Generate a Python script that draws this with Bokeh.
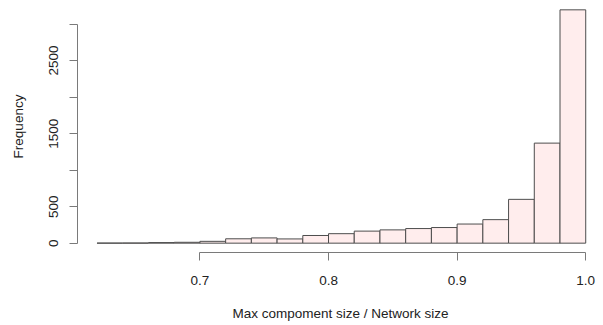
from bokeh.plotting import figure
from bokeh.models import Range1d, FixedTicker, ColumnDataSource
from bokeh.embed import file_html
from bokeh.resources import INLINE

# Histogram data
bin_edges = [0.62, 0.64, 0.66, 0.68, 0.70, 0.72, 0.74, 0.76, 0.78, 0.80,
             0.82, 0.84, 0.86, 0.88, 0.90, 0.92, 0.94, 0.96, 0.98, 1.00]
counts = [1, 2, 8, 12, 25, 60, 72, 58, 105, 130,
          165, 182, 200, 214, 262, 322, 600, 1370, 3195]

x_ticks = [0.7, 0.8, 0.9, 1.0]
x_tick_labels = ["0.7", "0.8", "0.9", "1.0"]
y_ticks = [0, 500, 1000, 1500, 2000, 2500, 3000]
y_tick_labels = ["0", "500", "", "1500", "", "2500", ""]

x_title = "Max compoment size / Network size"
y_title = "Frequency"

src = ColumnDataSource(dict(left=bin_edges[:-1], right=bin_edges[1:], top=counts,
                            bottom=[0] * len(counts)))

xmin, xmax = bin_edges[0], bin_edges[-1]
xpad = 0.04 * (xmax - xmin)
ymax = max(counts)
ypad = 0.04 * ymax

p = figure(width=603, height=325, output_backend="svg", toolbar_location=None,
           x_range=Range1d(xmin - xpad, xmin - xpad + 526 / 1286),
           y_range=Range1d(-ypad, ymax + ypad),
           min_border_left=77, min_border_right=0, min_border_top=0, min_border_bottom=73)

p.quad(left="left", right="right", top="top", bottom="bottom", source=src,
       fill_color="#FFEDED", line_color="#4d4d4d", line_width=1)

p.xgrid.visible = False
p.ygrid.visible = False
p.outline_line_color = None
p.background_fill_color = "white"
p.border_fill_color = "white"

font = "Liberation Sans"
for ax in (p.xaxis[0], p.yaxis[0]):
    ax.axis_line_color = "#7a7a7a"
    ax.major_tick_line_color = "#7a7a7a"
    ax.minor_tick_line_color = None
    ax.major_tick_in = 0
    ax.major_tick_out = 8
    ax.major_label_text_font = font
    ax.major_label_text_font_size = "13.5px"
    ax.major_label_text_color = "#222222"
    ax.axis_label_text_font = font
    ax.axis_label_text_font_size = "13.5px"
    ax.axis_label_text_font_style = "normal"
    ax.axis_label_text_color = "#222222"

xa = p.xaxis[0]
xa.ticker = FixedTicker(ticks=x_ticks)
xa.major_label_overrides = {t: l for t, l in zip(x_ticks, x_tick_labels)}
xa.bounds = (x_ticks[0], x_ticks[-1])
xa.axis_label = x_title
xa.major_label_standoff = 15
xa.axis_label_standoff = 18

ya = p.yaxis[0]
ya.ticker = FixedTicker(ticks=y_ticks)
ya.major_label_overrides = {t: l for t, l in zip(y_ticks, y_tick_labels)}
ya.bounds = (y_ticks[0], y_ticks[-1])
ya.major_label_orientation = "vertical"
ya.axis_label = y_title
ya.major_label_standoff = 11
ya.axis_label_standoff = 21

open("out.html", "w").write(file_html(p, INLINE))
